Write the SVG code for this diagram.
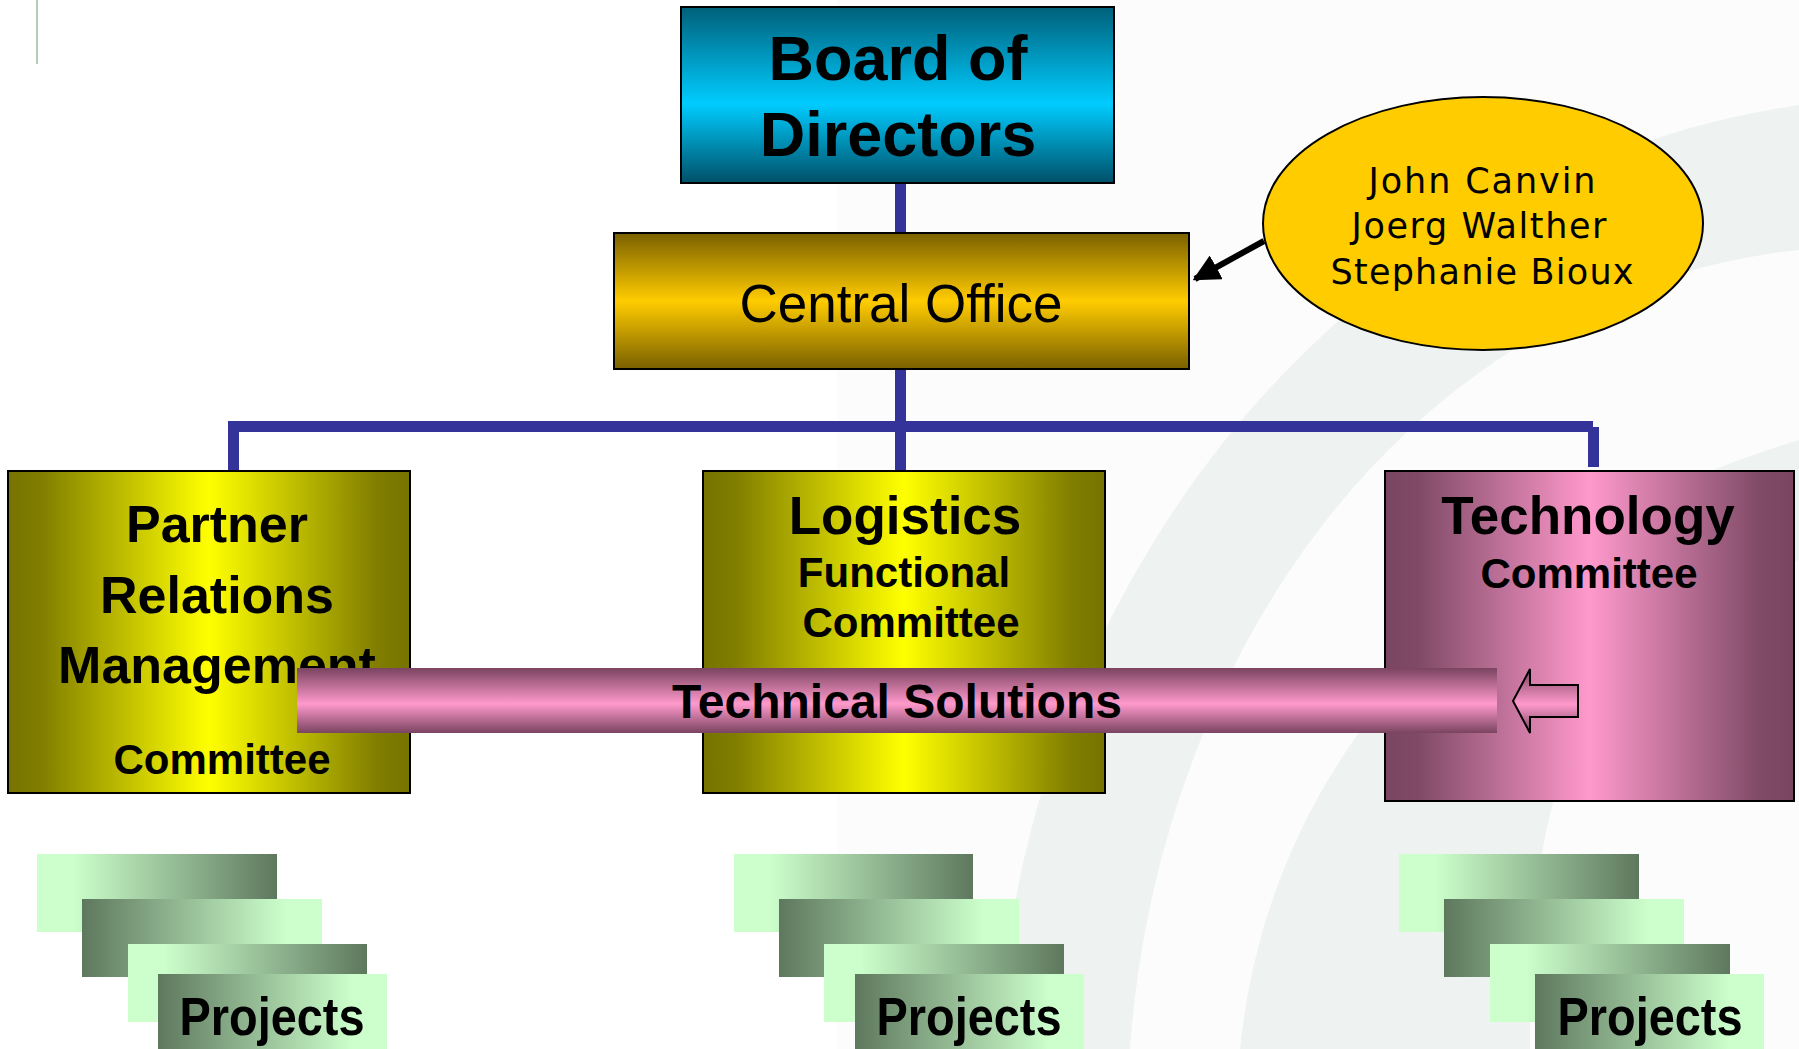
<svg xmlns="http://www.w3.org/2000/svg" width="1799" height="1049" viewBox="0 0 1799 1049">
<defs>
<style>
.b{font-family:"Liberation Sans",Arial,sans-serif;font-weight:bold;fill:#000;text-anchor:middle}
.r{font-family:"Liberation Sans",Arial,sans-serif;fill:#000;text-anchor:middle}
.v{font-family:"DejaVu Sans",Verdana,sans-serif;fill:#000;text-anchor:middle;font-size:35px}
.box{stroke:#000;stroke-width:2}
.conn{fill:#333399}
.bg{fill:#EEF2F1}
</style>
<linearGradient id="gBoard" x1="0" y1="0" x2="0" y2="1">
<stop offset="0" stop-color="#00607A"/><stop offset="0.55" stop-color="#00CCFF"/><stop offset="1" stop-color="#005068"/>
</linearGradient>
<linearGradient id="gCentral" x1="0" y1="0" x2="0" y2="1">
<stop offset="0" stop-color="#7A6000"/><stop offset="0.5" stop-color="#FFCC00"/><stop offset="1" stop-color="#7A6000"/>
</linearGradient>
<linearGradient id="gYellow" x1="0" y1="0" x2="1" y2="0">
<stop offset="0" stop-color="#777300"/><stop offset="0.08" stop-color="#807D00"/><stop offset="0.5" stop-color="#FFFF00"/><stop offset="0.92" stop-color="#807D00"/><stop offset="1" stop-color="#777300"/>
</linearGradient>
<linearGradient id="gPink" x1="0" y1="0" x2="1" y2="0">
<stop offset="0" stop-color="#7A4560"/><stop offset="0.08" stop-color="#7F4A66"/><stop offset="0.5" stop-color="#FF99CC"/><stop offset="0.92" stop-color="#7F4A66"/><stop offset="1" stop-color="#7A4560"/>
</linearGradient>
<linearGradient id="gBar" x1="0" y1="0" x2="0" y2="1">
<stop offset="0" stop-color="#7A4460"/><stop offset="0.55" stop-color="#FF99CC"/><stop offset="1" stop-color="#7A4460"/>
</linearGradient>
<linearGradient id="gGreenLD" x1="0" y1="0" x2="1" y2="0">
<stop offset="0.15" stop-color="#CCFFCC"/><stop offset="1" stop-color="#5E785E"/>
</linearGradient>
<linearGradient id="gGreenDL" x1="0" y1="0" x2="1" y2="0">
<stop offset="0" stop-color="#5E785E"/><stop offset="0.85" stop-color="#CCFFCC"/>
</linearGradient>
<marker id="arrowBlack" viewBox="0 0 10 10" refX="9" refY="5" markerWidth="4.5" markerHeight="4.5" orient="auto" markerUnits="strokeWidth">
<path d="M0,0 L10,5 L0,10 z" fill="#000"/>
</marker>
</defs>

<g id="background">
<rect x="0" y="0" width="1799" height="1049" fill="#FFFFFF"/>
<rect x="837" y="0" width="962" height="1049" fill="#FCFCFC"/>
<path class="bg" d="M1000,1049 C1010,640 1300,180 1799,105 L1799,250 C1420,290 1160,640 1130,1049 Z"/>
<path class="bg" d="M1240,1049 C1270,760 1470,540 1799,440 L1799,560 C1560,640 1530,800 1530,1049 Z"/>
<line x1="37" y1="0" x2="37" y2="64" stroke="#B5CCB8" stroke-width="2"/>
</g>

<g id="connectors">
<rect class="conn" x="895" y="183" width="11" height="50"/>
<rect class="conn" x="895" y="369" width="11" height="102"/>
<rect class="conn" x="228" y="421" width="1365" height="11"/>
<rect class="conn" x="228" y="421" width="11" height="50"/>
<rect class="conn" x="1588" y="427" width="11" height="40"/>
<line x1="1264" y1="241" x2="1195" y2="279" stroke="#000" stroke-width="6" marker-end="url(#arrowBlack)"/>
</g>

<g id="board">
<rect class="box" x="681" y="7" width="433" height="176" fill="url(#gBoard)"/>
<text class="b" x="898" y="80" font-size="63">Board of</text>
<text class="b" x="898" y="156" font-size="63">Directors</text>
</g>

<g id="central-office">
<rect class="box" x="614" y="233" width="575" height="136" fill="url(#gCentral)"/>
<text class="r" x="901" y="322" font-size="53">Central Office</text>
</g>

<g id="members">
<ellipse cx="1483" cy="223.5" rx="220" ry="126.5" fill="#FFCC00" stroke="#000" stroke-width="2"/>
<text class="v" x="1482" y="193" textLength="227">John Canvin</text>
<text class="v" x="1479" y="238" textLength="255">Joerg Walther</text>
<text class="v" x="1482" y="284" textLength="303">Stephanie Bioux</text>
</g>

<g id="partner-relations">
<rect class="box" x="8" y="471" width="402" height="322" fill="url(#gYellow)"/>
<text class="b" x="217" y="542" font-size="52">Partner</text>
<text class="b" x="217" y="613" font-size="52">Relations</text>
<text class="b" x="217" y="683" font-size="52">Management</text>
<text class="b" x="222" y="774" font-size="42">Committee</text>
</g>

<g id="logistics">
<rect class="box" x="703" y="471" width="402" height="322" fill="url(#gYellow)"/>
<text class="b" x="905" y="534" font-size="53">Logistics</text>
<text class="b" x="904" y="587" font-size="42">Functional</text>
<text class="b" x="911" y="637" font-size="42">Committee</text>
</g>

<g id="technology">
<rect class="box" x="1385" y="471" width="409" height="330" fill="url(#gPink)"/>
<text class="b" x="1588" y="534" font-size="53">Technology</text>
<text class="b" x="1589" y="588" font-size="42">Committee</text>
</g>

<g id="technical-solutions">
<rect x="297" y="668" width="1200" height="65" fill="url(#gBar)"/>
<text class="b" x="897" y="718" font-size="48">Technical Solutions</text>
<path d="M1513,701 L1530,669 L1530,685 L1578,685 L1578,717 L1530,717 L1530,733 Z" fill="url(#gBar)" stroke="#000" stroke-width="2"/>
</g>

<g id="projects-left">
<rect x="37" y="854" width="240" height="78" fill="url(#gGreenLD)"/>
<rect x="82" y="899" width="240" height="78" fill="url(#gGreenDL)"/>
<rect x="128" y="944" width="239" height="78" fill="url(#gGreenLD)"/>
<rect x="158" y="974" width="229" height="80" fill="url(#gGreenDL)"/>
<text class="b" x="272" y="1035" font-size="53" textLength="185" lengthAdjust="spacingAndGlyphs">Projects</text>
</g>

<g id="projects-middle">
<rect x="734" y="854" width="239" height="78" fill="url(#gGreenLD)"/>
<rect x="779" y="899" width="240" height="78" fill="url(#gGreenDL)"/>
<rect x="824" y="944" width="240" height="78" fill="url(#gGreenLD)"/>
<rect x="855" y="974" width="229" height="80" fill="url(#gGreenDL)"/>
<text class="b" x="969" y="1035" font-size="53" textLength="185" lengthAdjust="spacingAndGlyphs">Projects</text>
</g>

<g id="projects-right">
<rect x="1399" y="854" width="240" height="78" fill="url(#gGreenLD)"/>
<rect x="1444" y="899" width="240" height="78" fill="url(#gGreenDL)"/>
<rect x="1490" y="944" width="240" height="78" fill="url(#gGreenLD)"/>
<rect x="1535" y="974" width="229" height="80" fill="url(#gGreenDL)"/>
<text class="b" x="1650" y="1035" font-size="53" textLength="185" lengthAdjust="spacingAndGlyphs">Projects</text>
</g>
</svg>
